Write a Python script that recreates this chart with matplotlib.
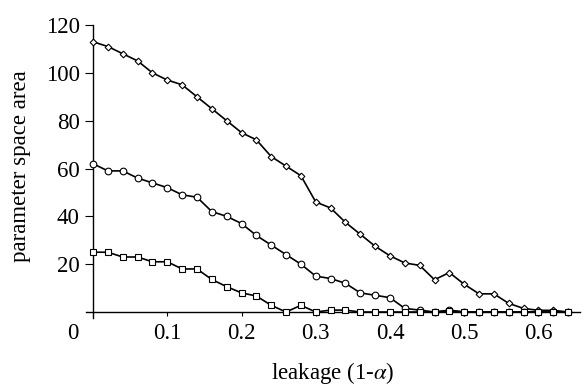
import matplotlib
matplotlib.use('Agg')
import matplotlib.pyplot as plt
import matplotlib.transforms as mtransforms
import numpy as np

plt.rcParams['font.family'] = ['Liberation Serif', 'DejaVu Serif']
plt.rcParams['mathtext.fontset'] = 'stix'

# leakage values (1-alpha)
leakage = [0.00, 0.02, 0.04, 0.06, 0.08, 0.10, 0.12, 0.14, 0.16, 0.18, 0.20,
           0.22, 0.24, 0.26, 0.28, 0.30, 0.32, 0.34, 0.36, 0.38, 0.40, 0.42,
           0.44, 0.46, 0.48, 0.50, 0.52, 0.54, 0.56, 0.58, 0.60, 0.62, 0.64]

area_diamond = [113, 111, 108, 105, 100, 97, 95, 90, 85, 80, 75,
                72, 65, 61, 57, 46, 43.5, 37.5, 32.5, 27.5, 23.5, 20.5,
                19.5, 13.5, 16.5, 11.6, 7.6, 7.6, 3.6, 1.5, 0.7, 0.7, 0]

area_circle = [62, 59, 59, 56, 54, 52, 49, 48, 42, 40, 37,
               32, 28, 24, 20, 15, 14, 12, 8, 7, 6, 1.5,
               0.8, 0, 0.8, 0, 0, 0, 0, 0, 0, 0, 0]

area_square = [25, 25, 23, 23, 21, 21, 18, 18, 13.6, 10.6, 8,
               6.7, 2.8, 0, 2.8, 0, 0.8, 0.8, 0, 0, 0, 0,
               0, 0, 0.5, 0, 0, 0, 0, 0, 0, 0, 0]

xticks = [0, 0.1, 0.2, 0.3, 0.4, 0.5, 0.6]
xticklabels = ['0', '0.1', '0.2', '0.3', '0.4', '0.5', '0.6']
yticks = [20, 40, 60, 80, 100, 120]

fig = plt.figure(figsize=(5.88, 3.86), dpi=100)
ax = fig.add_axes([0.1456, 0.1762, 0.8408, 0.759])

lw = 1.2
ax.plot(leakage, area_diamond, color='black', lw=lw, marker='D', ms=3.4,
        mfc='white', mec='black', mew=0.8, zorder=3)
ax.plot(leakage, area_circle, color='black', lw=lw, marker='o', ms=4.8,
        mfc='white', mec='black', mew=0.8, zorder=3)
ax.plot(leakage, area_square, color='black', lw=lw, marker='s', ms=4.4,
        mfc='white', mec='black', mew=0.8, zorder=3)

ax.set_xlim(-0.01, 0.656)
ax.set_ylim(-2.5, 120)

for s in ['top', 'right']:
    ax.spines[s].set_visible(False)
ax.spines['left'].set_position(('data', 0))
ax.spines['bottom'].set_position(('data', 0))
ax.spines['left'].set_linewidth(1.0)
ax.spines['bottom'].set_linewidth(1.0)

ax.set_xticks(xticks)
ax.set_xticklabels(xticklabels)
ax.set_yticks(yticks)
ax.tick_params(axis='y', direction='out', length=6, width=0.8, pad=3.5, labelsize=16.5)
ax.tick_params(axis='x', direction='out', length=3, width=0.8, pad=5, labelsize=16.5)

# the "0" label sits to the left of the origin
lab0 = ax.get_xticklabels()[0]
lab0.set_transform(lab0.get_transform() +
                   mtransforms.ScaledTranslation(-20 / 100, 0, fig.dpi_scale_trans))
ax.xaxis.get_major_ticks()[0].tick1line.set_visible(False)

ax.set_xlabel(r'leakage (1-$\alpha$)', fontsize=16.5)
ax.xaxis.set_label_coords(0.5, -0.142)
ax.set_ylabel('parameter space area', fontsize=16.5)
ax.yaxis.set_label_coords(-0.11, 0.52)

fig.savefig('out.png', dpi=100)
